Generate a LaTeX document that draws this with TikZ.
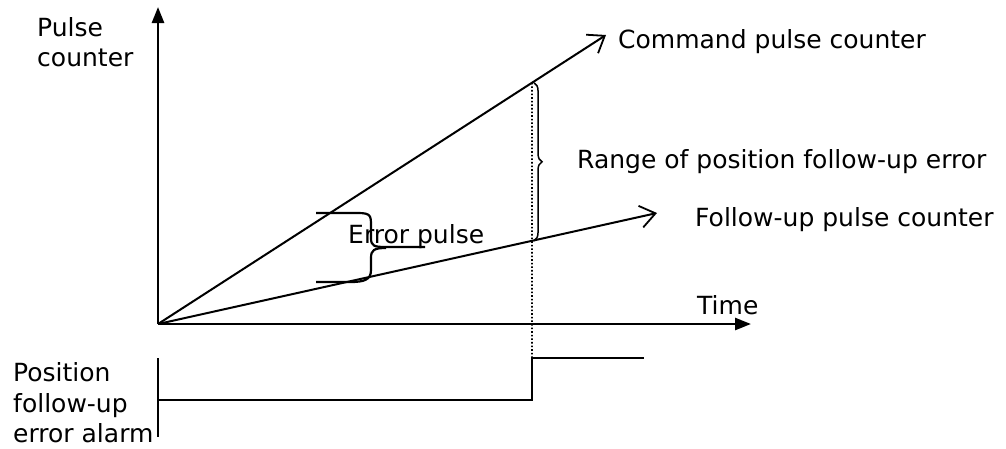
\documentclass[tikz,border=0pt]{standalone}
\usepackage{fontspec}
\setmainfont{DejaVu Sans}
\usetikzlibrary{arrows.meta}
\usetikzlibrary{decorations.pathreplacing}

\begin{document}
\begin{tikzpicture}[x=1pt, y=-1pt,
    axis/.style={line width=2.6pt, -{Triangle[length=16pt, width=12pt]}},
    countline/.style={line width=2pt, -{Straight Barb[length=15pt, width=22pt, line width=1.8pt]}},
    pulsebr/.style={line width=2.2pt},
    alarmline/.style={line width=2.6pt},
    lbl/.style={inner sep=0pt, anchor=west, align=left,
        font=\fontsize{25}{30.5}\selectfont}]

    \useasboundingbox (0,0) rectangle (1006,448);

    % axes
    \coordinate (O) at (158,324);
    \coordinate (ytip) at (158,7);
    \coordinate (xtip) at (751,324);
    \draw[axis] (O) -- (ytip);
    \draw[axis] (O) -- (xtip);
    \node[lbl] (ylabel) at (37,42) {Pulse\\counter};
    \node[lbl] (time) at (697,305) {Time};

    % counters
    \coordinate (cmdtip) at (606,35);
    \coordinate (flwtip) at (657,213);
    \draw[countline] (O) -- (cmdtip);
    \draw[countline] (O) -- (flwtip);
    \node[lbl] (cmd) at (618,42) {Command pulse counter};
    \node[lbl] (flw) at (695,220) {Follow-up pulse counter};

    % range of error
    \coordinate (cut1) at (532,0);
    \coordinate (cut2) at (532,448);
    \coordinate (rtop) at (intersection of O--cmdtip and cut1--cut2);
    \coordinate (rbot) at (intersection of O--flwtip and cut1--cut2);
    \coordinate (step) at (532,358);
    \draw[line width=1.6pt, dash pattern=on 1.6pt off 2pt] (rtop) -- (step);
    \draw[line width=1.5pt, decorate, decoration={brace, amplitude=8pt}]
        ([xshift=2pt]rtop) -- ([xshift=2pt]rbot);
    \node[lbl] (range) at (577,162) {Range of position follow-up error};

    % error pulse
    \coordinate (ep1) at (316,213);
    \coordinate (ep2) at (425,247);
    \coordinate (ep3) at (316,282);
    \draw[pulsebr] (ep1) -- (358,213) .. controls (371,213) and (371,216) .. (371,226)
        -- (371,238) .. controls (371,246) and (374,247) .. (386,247) -- (ep2);
    \draw[pulsebr] (386,248) .. controls (374,248) and (371,250) .. (371,258)
        -- (371,270) .. controls (371,280) and (364,282) .. (350,282) -- (ep3);
    \node[lbl] (errp) at (348,237) {Error pulse};

    % alarm signal
    \coordinate (a1) at (158,358);
    \coordinate (a2) at (158,437);
    \coordinate (low) at (158,400);
    \coordinate (high) at (644,358);
    \draw[alarmline] (a1) -- (a2);
    \draw[alarmline] (low) -- (step |- low) -- (step) -- (high);
    \node[lbl] (alarm) at (13,403) {Position\\follow-up\\error alarm};

\end{tikzpicture}
\end{document}
